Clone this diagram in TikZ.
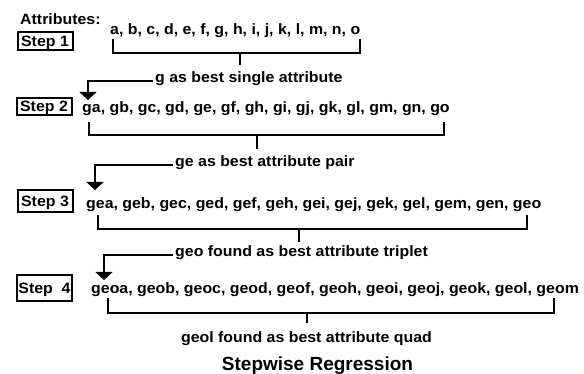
\documentclass[tikz,border=0pt]{standalone}
\usepackage{fontspec}
\usetikzlibrary{arrows.meta}
\newfontfamily\bodyfont{Liberation Sans}[FakeStretch=1.06]
\newfontfamily\titlefont{Liberation Sans}
\tikzset{
  txt/.style={inner sep=0pt, anchor=base west, font=\bodyfont\bfseries\fontsize{15}{17}\selectfont},
  lbl/.style={txt, inner xsep=2pt},
  stepbox/.style={draw, line width=2pt, inner sep=0pt, minimum width=55pt,
    text height=10.7pt, text depth=0pt,
    font=\bodyfont\bfseries\fontsize{15}{17}\selectfont},
  bracket/.style={line width=2.5pt, line cap=rect},
  pick/.style={line width=2.5pt, -{Triangle[width=17pt,length=8pt]}}
}
\begin{document}
\begin{tikzpicture}[x=1pt,y=-1pt]
  \useasboundingbox[fill=white] (0,0) rectangle (584,374);

  % header and step boxes
  \node[txt] (attr) at (20,25) {Attributes:};
  \node[stepbox, minimum height=18pt] (s1) at (45,41) {Step 1};
  \node[stepbox, minimum height=17pt] (s2) at (44,106.5) {Step 2};
  \node[stepbox, minimum height=22pt] (s3) at (45,201) {Step 3};
  \node[stepbox, minimum height=26pt] (s4) at (44.5,288.5) {Step\ \ 4};

  % candidate attribute sets
  \node[txt] (r1) at (110,35) {a, b, c, d, e, f, g, h, i, j, k, l, m, n, o};
  \node[txt] (r2) at (82,113) {ga, gb, gc, gd, ge, gf, gh, gi, gj, gk, gl, gm, gn, go};
  \node[txt] (r3) at (86,209) {gea, geb, gec, ged, gef, geh, gei, gej, gek, gel, gem, gen, geo};
  \node[txt] (r4) at (91,294) {geoa, geob, geoc, geod, geof, geoh, geoi, geoj, geok, geol, geom};

  % selection labels
  \node[lbl] (l1) at (153,83) {g as best single attribute};
  \node[lbl] (l2) at (173,167) {ge as best attribute pair};
  \node[lbl] (l3) at (173,257) {geo found as best attribute triplet};
  \node[txt, anchor=base] (l4) at (306.5,342) {geol found as best attribute quad};
  \node[anchor=base, inner sep=0pt, font=\titlefont\bfseries\fontsize{19}{21}\selectfont]
    (title) at (317.5,370) {Stepwise Regression};

  % bracket corners and stems
  \coordinate (b1a) at (113,40);  \coordinate (b1b) at (113,53);
  \coordinate (b1c) at (360,53);  \coordinate (b1d) at (360,40);
  \coordinate (b1m) at (240,53);  \coordinate (b1s) at (240,65);
  \coordinate (b2a) at (89,123);  \coordinate (b2b) at (89,135);
  \coordinate (b2c) at (444,135); \coordinate (b2d) at (444,123);
  \coordinate (b2m) at (257,135); \coordinate (b2s) at (257,149);
  \coordinate (b3a) at (98,216);  \coordinate (b3b) at (98,229);
  \coordinate (b3c) at (527,229); \coordinate (b3d) at (527,216);
  \coordinate (b3m) at (299,229); \coordinate (b3s) at (299,242);
  \coordinate (b4a) at (108,299); \coordinate (b4b) at (108,313);
  \coordinate (b4c) at (554,313); \coordinate (b4d) at (554,299);
  \coordinate (b4m) at (307,313); \coordinate (b4s) at (307,323);

  \foreach \i in {1,2,3,4}{
    \draw[bracket] (b\i a) -- (b\i b) -- (b\i c) -- (b\i d);
    \draw[bracket, line cap=butt] (b\i m) -- (b\i s);
  }

  % arrow tips above the next row
  \coordinate (t2) at (88,100);
  \coordinate (t3) at (95,190);
  \coordinate (t4) at (104,280);
  \draw[pick] (l1.mid west) -| (t2);
  \draw[pick] (l2.mid west) -| (t3);
  \draw[pick] (l3.mid west) -| (t4);
\end{tikzpicture}
\end{document}
